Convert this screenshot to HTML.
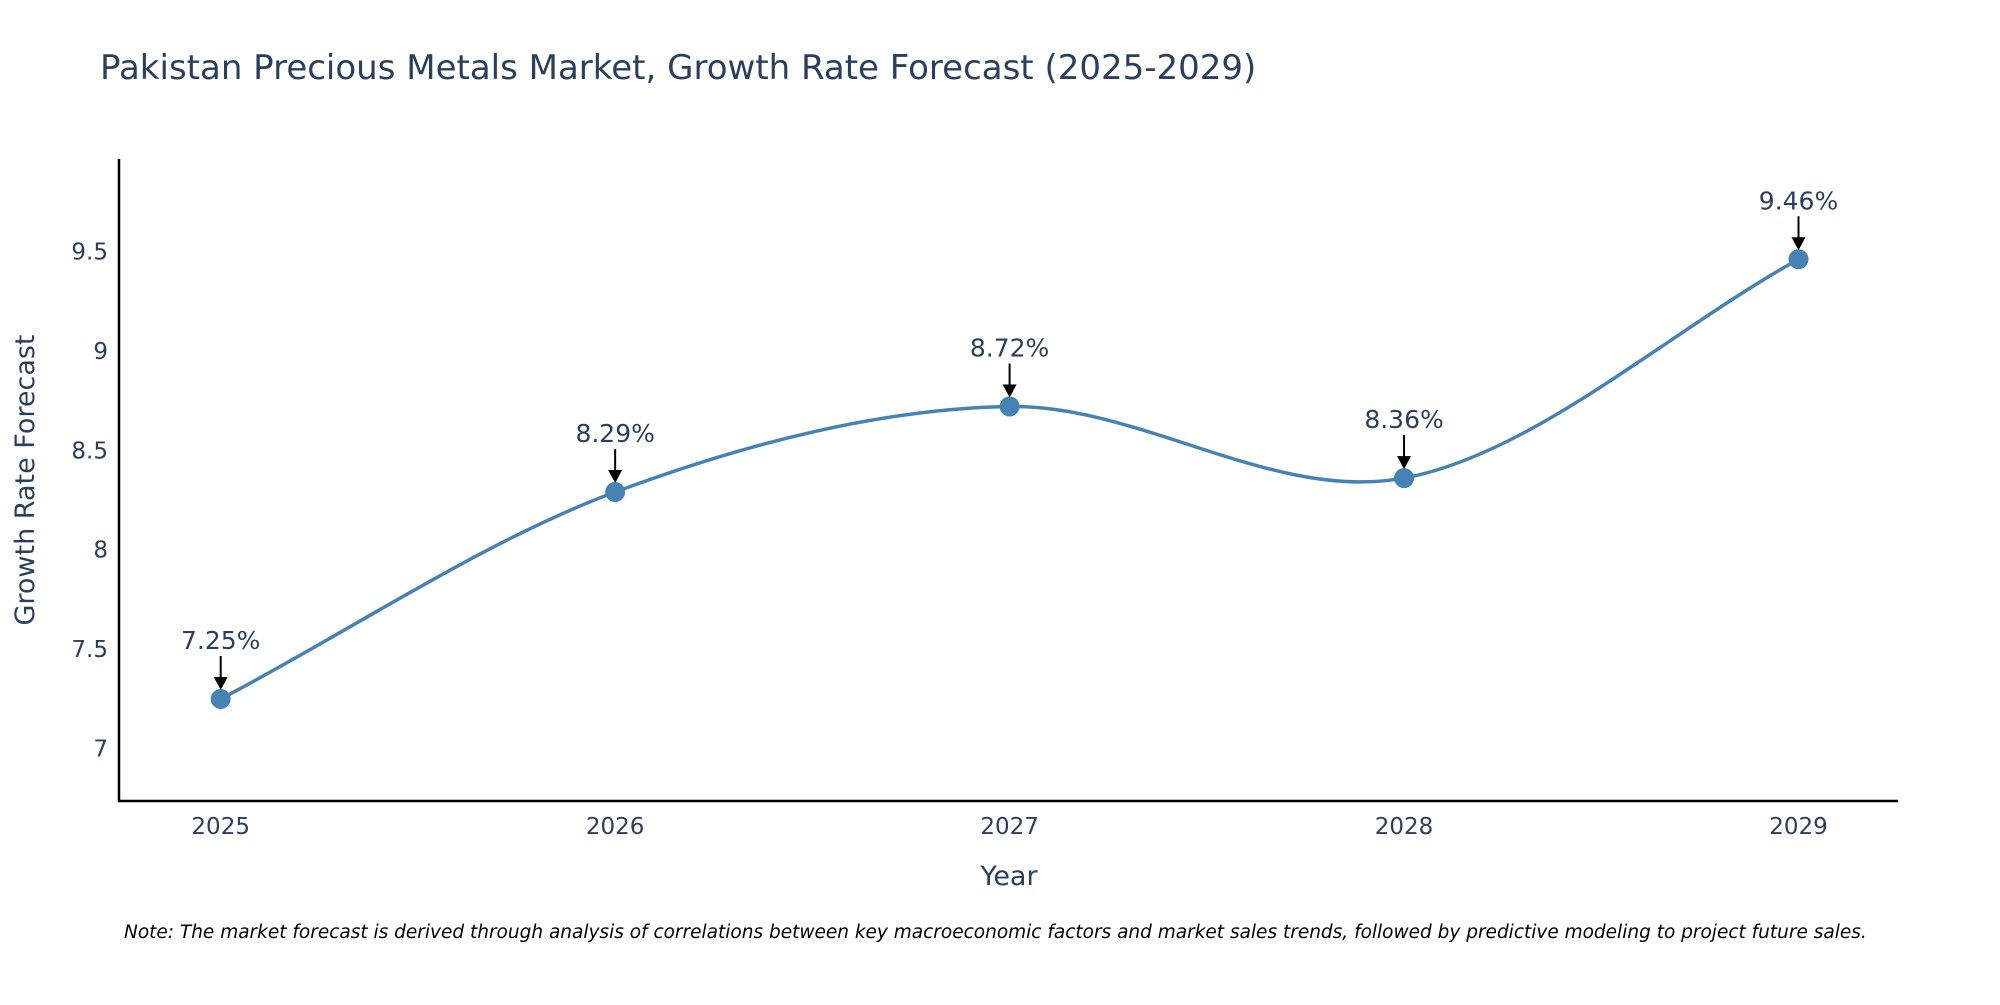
<!DOCTYPE html>
<html><head><meta charset="utf-8"><style>
body{margin:0;background:#fff;width:2000px;height:1000px;overflow:hidden}
svg text{font-family:"DejaVu Sans","Liberation Sans",sans-serif;fill:#2a3f5f}
</style></head><body>
<svg width="2000" height="1000" xmlns="http://www.w3.org/2000/svg" id="chart">
<text x="100" y="79" font-size="34">Pakistan Precious Metals Market, Growth Rate Forecast (2025-2029)</text>
<line x1="119" y1="159" x2="119" y2="802" stroke="#000" stroke-width="2.5"/>
<line x1="118" y1="801" x2="1898" y2="801" stroke="#000" stroke-width="2.5"/>
<g id="yticks"></g><g id="xticks"></g>
<text transform="translate(34,480) rotate(-90)" text-anchor="middle" font-size="27">Growth Rate Forecast</text>
<text x="1009" y="885" text-anchor="middle" font-size="27">Year</text>
<path id="line" fill="none" stroke="#4682b4" stroke-width="3.5"/>
<g id="points"></g><g id="anns"></g>
<text x="124" y="938" font-size="18.5" font-style="italic" style="fill:#000">Note: The market forecast is derived through analysis of correlations between key macroeconomic factors and market sales trends, followed by predictive modeling to project future sales.</text>
</svg>
<script>
const years=["2025","2026","2027","2028","2029"];
const values=[7.25,8.29,8.72,8.36,9.46];
const labels=["7.25%","8.29%","8.72%","8.36%","9.46%"];
const yTicks=[7,7.5,8,8.5,9,9.5];
const yTickLabels=["7","7.5","8","8.5","9","9.5"];
const NS="http://www.w3.org/2000/svg";
const xs=i=>220.7+i*(1798.5-220.7)/(years.length-1);
const ys=v=>748.7-(v-7)*198.96;
function mk(t,a,p){const e=document.createElementNS(NS,t);for(const k in a)e.setAttribute(k,a[k]);document.getElementById(p).appendChild(e);return e;}
yTicks.forEach((v,i)=>{const t=mk('text',{x:108,y:ys(v)+8,'text-anchor':'end','font-size':23},'yticks');t.textContent=yTickLabels[i];

});
years.forEach((y,i)=>{const t=mk('text',{x:xs(i),y:834,'text-anchor':'middle','font-size':23},'xticks');t.textContent=y;

});
const P=values.map((v,i)=>[xs(i),ys(v)]);
let d=`M${P[0][0]},${P[0][1]}`;const s=0.33;
for(let i=0;i<P.length-1;i++){const p0=P[i-1]||P[i],p1=P[i],p2=P[i+1],p3=P[i+2]||P[i+1];
d+=` C${p1[0]+(p2[0]-p0[0])*s/(p0===p1?1:2)},${p1[1]+(p2[1]-p0[1])*s/(p0===p1?1:2)} ${p2[0]-(p3[0]-p1[0])*s/(p3===p2?1:2)},${p2[1]-(p3[1]-p1[1])*s/(p3===p2?1:2)} ${p2[0]},${p2[1]}`;}
document.getElementById('line').setAttribute('d',d);
P.forEach((p,i)=>{const c=mk('circle',{cx:p[0],cy:p[1],r:10,fill:'#4682b4'},'points');


const l=mk('line',{x1:p[0],y1:p[1]-43,x2:p[0],y2:p[1]-20,stroke:'#000','stroke-width':2},'anns');


const h=mk('polygon',{points:`${p[0]-7},${p[1]-22} ${p[0]+7},${p[1]-22} ${p[0]},${p[1]-9}`,fill:'#000'},'anns');


const t=mk('text',{x:p[0],y:p[1]-50,'text-anchor':'middle','font-size':25},'anns');t.textContent=labels[i];

});
</script>
</body></html>
